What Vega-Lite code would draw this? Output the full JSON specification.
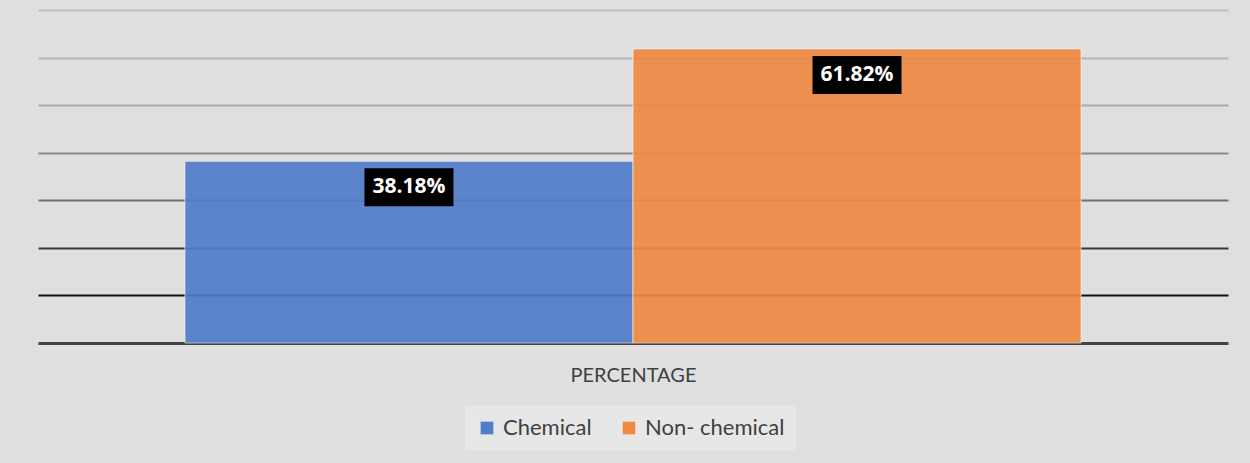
{
  "$schema": "https://vega.github.io/schema/vega-lite/v6.json",
  "width": 1190,
  "height": 333,
  "autosize": {"type": "none"},
  "padding": {"left": 38, "top": 10, "right": 22, "bottom": 120},
  "background": "#dfdfdf",
  "config": {
    "view": {"stroke": null},
    "font": "Lato"
  },
  "data": {
    "values": [
      {"category": "PERCENTAGE", "series": "Chemical", "value": 38.18, "label": "38.18%"},
      {"category": "PERCENTAGE", "series": "Non- chemical", "value": 61.82, "label": "61.82%"}
    ]
  },
  "encoding": {
    "x": {
      "field": "series",
      "type": "nominal",
      "sort": ["Chemical", "Non- chemical"],
      "scale": {"paddingInner": 0, "paddingOuter": 0.328},
      "axis": {
        "title": "PERCENTAGE",
        "labels": false,
        "ticks": false,
        "domain": false,
        "titleFont": "Lato",
        "titleFontSize": 20,
        "titleFontWeight": "normal",
        "titleColor": "#404040",
        "titlePadding": 22
      }
    },
    "y": {
      "field": "value",
      "type": "quantitative",
      "scale": {"domain": [0, 70], "nice": false},
      "axis": {
        "title": null,
        "labels": false,
        "ticks": false,
        "domain": false,
        "values": [0, 10, 20, 30, 40, 50, 60, 70],
        "grid": true,
        "gridOpacity": 1,
        "gridColor": {
          "condition": [
            {"test": "datum.value === 0", "value": "#444444"},
            {"test": "datum.value === 10", "value": "#111111"},
            {"test": "datum.value === 20", "value": "#383838"},
            {"test": "datum.value === 30", "value": "#707070"},
            {"test": "datum.value === 40", "value": "#8a8a8a"},
            {"test": "datum.value === 50", "value": "#aaaaaa"},
            {"test": "datum.value === 60", "value": "#b5b5b5"}
          ],
          "value": "#bdbdbd"
        },
        "gridWidth": {
          "condition": {"test": "datum.value === 0", "value": 3},
          "value": 2
        }
      }
    }
  },
  "layer": [
    {
      "mark": {"type": "bar", "fillOpacity": 0.92, "stroke": "#ffffff", "strokeWidth": 1, "strokeOpacity": 0.6},
      "encoding": {
        "color": {
          "field": "series",
          "type": "nominal",
          "sort": ["Chemical", "Non- chemical"],
          "scale": {"domain": ["Chemical", "Non- chemical"], "range": ["#507cc8", "#ee8842"]},
          "legend": {
            "title": null,
            "orient": "none",
            "legendX": 427,
            "legendY": 396,
            "direction": "horizontal",
            "fillColor": "#e7e7e7",
            "padding": 11,
            "symbolType": "square",
            "symbolSize": 180,
            "symbolOpacity": 1,
            "symbolStrokeColor": "#ffffff",
            "symbolStrokeWidth": 0.5,
            "labelFont": "Lato",
            "labelFontSize": 22,
            "labelColor": "#404040",
            "labelOffset": 5,
            "columnPadding": 26
          }
        }
      }
    },
    {
      "mark": {
        "type": "point",
        "shape": "M-1,-0.427H1V0.427H-1Z",
        "filled": true,
        "color": "#000000",
        "opacity": 1,
        "size": 7921,
        "yOffset": 26
      }
    },
    {
      "mark": {
        "type": "text",
        "color": "#ffffff",
        "font": "Open Sans",
        "fontSize": 21,
        "fontWeight": "bold",
        "baseline": "middle",
        "align": "center",
        "yOffset": 26
      },
      "encoding": {"text": {"field": "label"}}
    }
  ]
}
